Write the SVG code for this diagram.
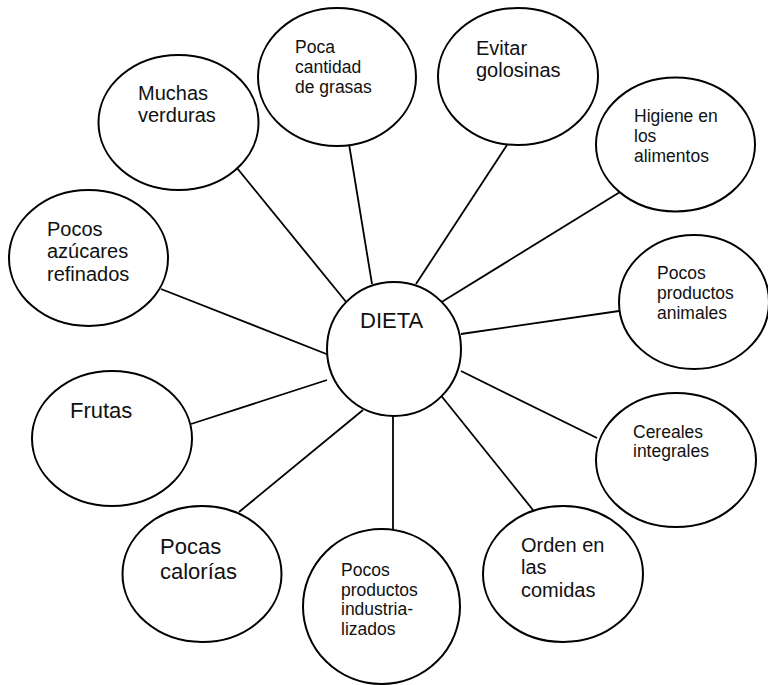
<svg xmlns="http://www.w3.org/2000/svg" width="768" height="685" viewBox="0 0 768 685">
<style>
.n{fill:#fff;stroke:#000;stroke-width:2}
.c line{stroke:#000;stroke-width:1.8}
text{font-family:"Liberation Sans",Arial,sans-serif;fill:#111}
.s{font-size:17.5px}
.m{font-size:20px}
.l{font-size:22px}
</style>
<rect width="768" height="685" fill="#fff"/>
<g class="c" id="connectors">
<line x1="237" y1="168" x2="347" y2="303"/>
<line x1="349" y1="144" x2="372" y2="284"/>
<line x1="507" y1="145" x2="416" y2="284"/>
<line x1="620" y1="192" x2="440" y2="303"/>
<line x1="619" y1="311" x2="461" y2="334"/>
<line x1="597" y1="438" x2="461" y2="371"/>
<line x1="537" y1="515" x2="439" y2="393"/>
<line x1="393" y1="529" x2="393" y2="416"/>
<line x1="239" y1="512" x2="363" y2="410"/>
<line x1="191" y1="424" x2="327" y2="380"/>
<line x1="161" y1="289" x2="334" y2="357"/>
</g>
<g id="dieta"><ellipse class="n" cx="394" cy="349" rx="67" ry="67"/><text class="l" x="360" y="328">DIETA</text></g>
<g id="muchas-verduras"><ellipse class="n" cx="178.5" cy="122.5" rx="80" ry="67.5"/><text class="m" x="138" y="100">Muchas</text><text class="m" x="138" y="122">verduras</text></g>
<g id="poca-grasas"><ellipse class="n" cx="337" cy="77" rx="79" ry="69"/><text class="s" x="295" y="53">Poca</text><text class="s" x="295" y="73">cantidad</text><text class="s" x="295" y="93">de grasas</text></g>
<g id="evitar-golosinas"><ellipse class="n" cx="518" cy="76.5" rx="80" ry="68.5"/><text class="m" x="476" y="55">Evitar</text><text class="m" x="476" y="77">golosinas</text></g>
<g id="higiene"><ellipse class="n" cx="675.5" cy="144.5" rx="79.5" ry="67"/><text class="s" x="634" y="122">Higiene en</text><text class="s" x="634" y="142">los</text><text class="s" x="634" y="162">alimentos</text></g>
<g id="pocos-azucares"><ellipse class="n" cx="88.5" cy="258" rx="79.5" ry="68"/><text class="m" x="47" y="236">Pocos</text><text class="m" x="47" y="258">azúcares</text><text class="m" x="47" y="281">refinados</text></g>
<g id="pocos-animales"><ellipse class="n" cx="694" cy="302" rx="75" ry="67"/><text class="s" x="657" y="279">Pocos</text><text class="s" x="657" y="299">productos</text><text class="s" x="657" y="319">animales</text></g>
<g id="frutas"><ellipse class="n" cx="112" cy="438.5" rx="80" ry="67.5"/><text class="l" x="70" y="418">Frutas</text></g>
<g id="cereales"><ellipse class="n" cx="676" cy="460" rx="80" ry="67"/><text class="s" x="633" y="438">Cereales</text><text class="s" x="633" y="457">integrales</text></g>
<g id="pocas-calorias"><ellipse class="n" cx="202" cy="574" rx="79.5" ry="68"/><text class="l" x="160" y="554">Pocas</text><text class="l" x="160" y="579">calorías</text></g>
<g id="pocos-industrializados"><ellipse class="n" cx="381.5" cy="606.5" rx="78.5" ry="77.5"/><text class="s" x="341" y="576">Pocos</text><text class="s" x="341" y="596">productos</text><text class="s" x="341" y="615">industria-</text><text class="s" x="341" y="635">lizados</text></g>
<g id="orden-comidas"><ellipse class="n" cx="563" cy="574" rx="80" ry="68"/><text class="m" x="521" y="552">Orden en</text><text class="m" x="521" y="574">las</text><text class="m" x="521" y="597">comidas</text></g>
</svg>
